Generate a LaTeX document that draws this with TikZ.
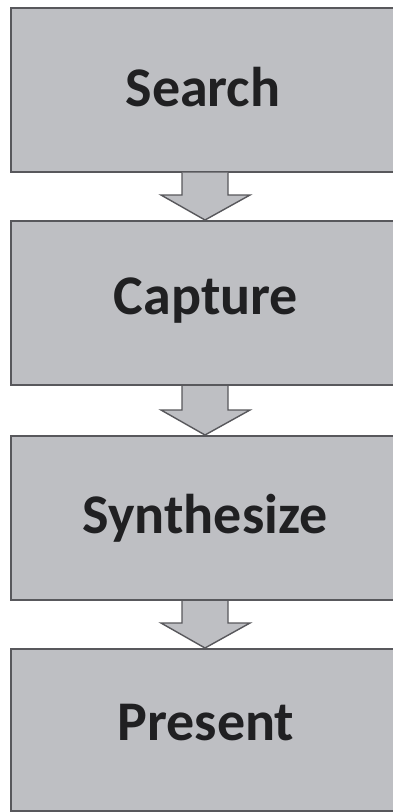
\documentclass[tikz,border=0pt]{standalone}
\usepackage{fontspec}
\setmainfont{Carlito}
\usetikzlibrary{calc}
\definecolor{boxfill}{RGB}{190,191,195}
\definecolor{boxline}{RGB}{88,88,92}
\definecolor{labeltext}{RGB}{32,32,34}
\begin{document}
\begin{tikzpicture}[x=1pt,y=-1pt,
  stagebox/.style={draw=boxline, line width=2pt, fill=boxfill,
    minimum width=420pt, minimum height=164pt, inner sep=0pt},
  stagetext/.style={text=labeltext, font=\fontsize{56}{60}\selectfont\bfseries,
    inner sep=0pt, text depth=0pt},
  flowarrow/.style={draw=boxline, line width=1.4pt, fill=boxfill, line join=miter}]
\useasboundingbox (0,0) rectangle (393,812);
\fill[white] (0,0) rectangle (393,812);
\clip (0,0) rectangle (393,812);

% stages: boxes run off the right edge, labels centred on the visible part
\node[stagebox, label={[stagetext, text height=33pt, xshift=-18pt]center:Search}]
  (search) at (221,89.5) {};
\node[stagebox, label={[stagetext, text height=22pt, xshift=-15pt]center:Capture}]
  (capture) at (221,303) {};
\node[stagebox, label={[stagetext, text height=31pt, xshift=-16pt]center:Synthesize}]
  (synthesize) at (221,518) {};
\node[stagebox, minimum height=162pt, label={[stagetext, text height=20pt, xshift=-15pt]center:Present}]
  (present) at (221,730) {};

% block arrows between consecutive stages
\foreach \a/\b in {search/capture, capture/synthesize, synthesize/present}{
  \draw[flowarrow]
    ($(\a.south)+(-39,0)$) |- ($(\b.north)+(-60,-25)$)
    -- ($(\b.north)+(-16,0)$)
    -- ($(\b.north)+(29,-25)$)
    -| ($(\a.south)+(7,0)$);
}
\end{tikzpicture}
\end{document}
